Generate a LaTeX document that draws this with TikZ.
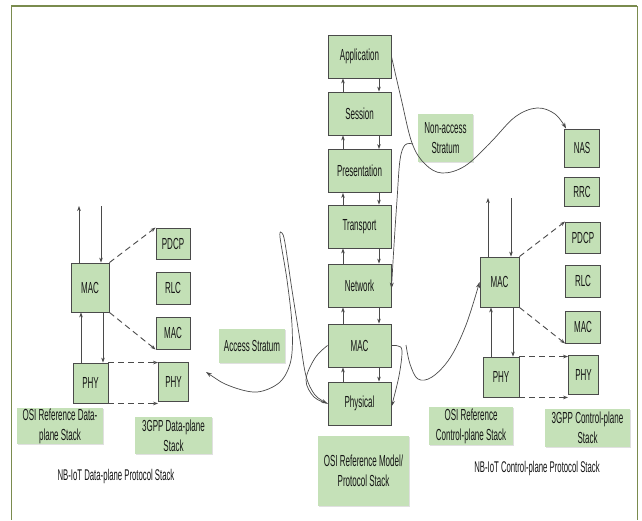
\documentclass[tikz,border=0pt]{standalone}
\usepackage{fontspec}
\setmainfont[FakeStretch=0.5]{Liberation Sans}
\usetikzlibrary{arrows.meta,shadows,calc}
\definecolor{boxfill}{HTML}{C3E0B6}
\definecolor{labfill}{HTML}{C5E1B8}
\definecolor{edge}{HTML}{4A4A4A}
\definecolor{framec}{HTML}{7A8B4E}
\definecolor{ink}{HTML}{151515}
\begin{document}
\begin{tikzpicture}[x=1pt,y=-1pt,
  lay/.style={draw=edge, line width=0.9pt, fill=boxfill, inner sep=0pt, text=ink, font=\fontsize{16}{18}\selectfont},
  lab/.style={fill=labfill, inner sep=0pt, align=center, text=ink, font=\fontsize{16}{20}\selectfont,
     drop shadow={shadow xshift=1.2pt, shadow yshift=-1.2pt, fill=black, opacity=0.12}},
  capt/.style={text=ink, font=\fontsize{15.5}{18}\selectfont, inner sep=0pt},
  link/.style={draw=edge, line width=0.6pt, -{Stealth[length=5pt,width=3.6pt]}},
  dlink/.style={link, dash pattern=on 6pt off 4pt, line width=0.9pt},
  curve/.style={draw=edge, line width=0.7pt},
  tipped/.style={curve, -{Stealth[length=6pt,width=4pt]}},
]
\useasboundingbox (0,0) rectangle (642,520);
\fill[white] (0,0) rectangle (642,520);
% frame
\draw[framec, line width=2pt] (11,6) -- (637,6);
\draw[framec, line width=1pt] (11,6) -- (11,520);
\draw[framec, line width=1pt] (637,6) -- (637,520);

% OSI reference model column
\node[lay, minimum width=63pt, minimum height=43pt] (app) at (359.5,56.5) {Application};
\node[lay, minimum width=63pt, minimum height=43pt] (ses) at (359.5,113.5) {Session};
\node[lay, minimum width=63pt, minimum height=43pt] (pre) at (359.5,171) {Presentation};
\node[lay, minimum width=63pt, minimum height=43pt] (tra) at (359.5,226.5) {Transport};
\node[lay, minimum width=63pt, minimum height=43pt] (net) at (359.5,285.5) {Network};
\node[lay, minimum width=63pt, minimum height=43pt] (mac) at (359.5,345.5) {MAC};
\node[lay, minimum width=63pt, minimum height=43pt] (phy) at (359.5,403.5) {Physical};

\foreach \u/\l in {app/ses,ses/pre,pre/tra,tra/net,net/mac,mac/phy}{
  \draw[link] ([xshift=-16.5pt]\l.north) -- ([xshift=-16.5pt]\u.south);
  \draw[link] ([xshift=19.5pt]\u.south) -- ([xshift=19.5pt]\l.north);
}

% Left: data plane
\node[lay, minimum width=38pt, minimum height=49pt] (macL) at (90,287.5) {MAC};
\node[lay, minimum width=35pt, minimum height=40pt] (phyL) at (90.5,383) {PHY};
\node[lay, minimum width=34pt, minimum height=31pt] (pdcpL) at (173,243.5) {PDCP};
\node[lay, minimum width=34pt, minimum height=32pt] (rlcL) at (173,288) {RLC};
\node[lay, minimum width=34pt, minimum height=32pt] (macL3) at (173,333) {MAC};
\node[lay, minimum width=30pt, minimum height=39pt] (phyL3) at (173.5,381.5) {PHY};

\coordinate (lup) at (79,206);
\coordinate (ldn) at (101,206);
\draw[link] (macL.north -| lup) -- (lup);
\draw[link] (ldn) -- (macL.north -| ldn);
\coordinate (lmu) at (81,340);
\coordinate (lmd) at (103,340);
\draw[link] (phyL.north -| lmu) -- (macL.south -| lmu);
\draw[link] (macL.south -| lmd) -- (phyL.north -| lmd);
\draw[dlink] (macL.north east) -- (pdcpL.north west);
\draw[dlink] (macL.south east) -- (macL3.south west);
\draw[dlink] (phyL.north east) -- (phyL.north east -| phyL3.west);
\draw[dlink] (phyL.south east) -- (phyL.south east -| phyL3.west);

% Right: control plane
\node[lay, minimum width=39pt, minimum height=50pt] (macR) at (499.5,282) {MAC};
\node[lay, minimum width=36pt, minimum height=40pt] (phyR) at (501,377) {PHY};
\node[lay, minimum width=35pt, minimum height=38pt] (nas) at (582,148) {NAS};
\node[lay, minimum width=35pt, minimum height=29pt] (rrc) at (582,191.5) {RRC};
\node[lay, minimum width=35pt, minimum height=31pt] (pdcpR) at (583,237.5) {PDCP};
\node[lay, minimum width=35pt, minimum height=32pt] (rlcR) at (583,281) {RLC};
\node[lay, minimum width=35pt, minimum height=32pt] (macR3) at (583,327) {MAC};
\node[lay, minimum width=30pt, minimum height=39pt] (phyR3) at (583.5,374.5) {PHY};

\coordinate (rup) at (488,198);
\coordinate (rdn) at (511,198);
\draw[link] (macR.north -| rup) -- (rup);
\draw[link] (rdn) -- (macR.north -| rdn);
\coordinate (rmu) at (491,330);
\coordinate (rmd) at (513,330);
\draw[link] (phyR.north -| rmu) -- (macR.south -| rmu);
\draw[link] (macR.south -| rmd) -- (phyR.north -| rmd);
\draw[dlink] (macR.north east) -- (pdcpR.north west);
\draw[dlink] (macR.south east) -- (macR3.south west);
\draw[dlink] (phyR.north east) -- (phyR.north east -| phyR3.west);
\draw[dlink] (phyR.south east) -- (phyR.south east -| phyR3.west);

% labels
\node[lab, minimum width=55pt, minimum height=48pt] (nasLab) at (445.5,138) {Non-access\\Stratum};
\node[lab, minimum width=66pt, minimum height=34pt] (asLab) at (252,346) {Access Stratum};
\node[lab, minimum width=91pt, minimum height=70pt] (osiLab) at (363.5,471) {OSI Reference Model/\\Protocol Stack};
\node[lab, minimum width=84pt, minimum height=38pt] (osiCtl) at (471,426) {OSI Reference\\Control-plane Stack};
\node[lab, minimum width=85pt, minimum height=38pt] (gppCtl) at (587.5,428) {3GPP Control-plane\\Stack};
\node[lab, minimum width=86pt, minimum height=36pt] (osiDat) at (60,426) {OSI Reference Data-\\plane Stack};
\node[lab, minimum width=77pt, minimum height=37pt] (gppDat) at (173.5,435.5) {3GPP Data-plane\\Stack};
\node[capt] (datCap) at (116,476) {NB-IoT Data-plane Protocol Stack};
\node[capt] (ctlCap) at (537,468) {NB-IoT Control-plane Protocol Stack};

% curves
\draw[tipped] plot[smooth, tension=0.6] coordinates {(app.east) (401,98) (412,143) (425,164) (442,173) (465,166) (490,143) (515,117) (537,108) (555,114) ([xshift=2pt]nas.north west)};
\coordinate (nasFork) at (413,144);
\draw[tipped] plot[smooth, tension=0.6] coordinates {(nasFork) (405,145) (400,160) (397,200) (394,245) ([yshift=-3pt]net.east)};
\coordinate (asTip) at (206,372);
\draw[curve, {Stealth[length=6pt,width=4pt]}-{Stealth[length=6pt,width=4pt]}] plot[smooth, tension=0.55] coordinates {(asTip) (230,386) (257,392) (280,382) (291,360) (292,325) (287,280) (280,237) (282,233) (285,243) (292,290) (300,340) (306,376) (315,395) (phy.west)};
\draw[curve] plot[smooth, tension=0.6] coordinates {(mac.west) (315,358) (306,380) (314,397) (phy.west)};
\draw[tipped] plot[smooth, tension=0.6] coordinates {(mac.east) (398,346) (402,351) (399,376) ([yshift=-3pt]phy.east)};
\coordinate (macFork) at (406,345);
\draw[tipped] plot[smooth, tension=0.6] coordinates {(macFork) (410,364) (418,379) (432,377) (450,358) (466,325) (macR.west)};
\end{tikzpicture}
\end{document}
